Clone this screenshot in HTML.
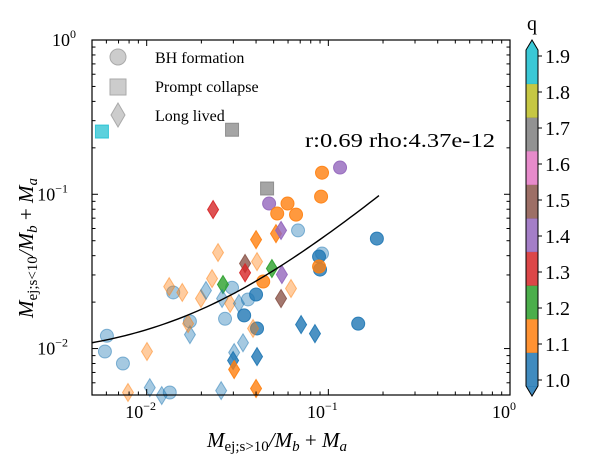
<!DOCTYPE html>
<html><head><meta charset="utf-8"><style>
html,body{margin:0;padding:0;background:#fff;}
svg{display:block;font-family:"Liberation Serif","DejaVu Serif",serif;}
</style></head><body>
<svg id="chart" width="591" height="470" viewBox="0 0 591 470">
  <g id="marks"></g>
  <g id="fitg"></g>
  <rect x="92" y="40" width="418" height="355" fill="none" stroke="#000" stroke-width="1.2"/>
  <g id="ticks"></g>
  <g>
    <circle cx="118" cy="57" r="8" fill="#bbb" fill-opacity="0.75" stroke="#aaa"/>
    <text x="155" y="63" font-size="16">BH formation</text>
    <rect x="110" y="79" width="16" height="16" fill="#bbb" fill-opacity="0.75" stroke="#aaa"/>
    <text x="155" y="92" font-size="16">Prompt collapse</text>
    <polygon points="118,103 125,115 118,127 111,115" fill="#bbb" fill-opacity="0.75" stroke="#aaa"/>
    <text x="155" y="121" font-size="16">Long lived</text>
  </g>
  <text x="305" y="147" font-size="20" textLength="190" lengthAdjust="spacingAndGlyphs">r:0.69 rho:4.37e-12</text>
  <text x="207" y="447" font-size="21" font-style="italic">M<tspan font-size="15" dy="4" font-style="normal">ej;s&gt;10</tspan><tspan dy="-4">/M</tspan><tspan font-size="15" dy="4">b</tspan><tspan dy="-4" font-style="normal"> + </tspan>M<tspan font-size="15" dy="4">a</tspan></text>
  <text transform="translate(33,318) rotate(-90)" font-size="21" font-style="italic">M<tspan font-size="15" dy="4" font-style="normal">ej;s&lt;10</tspan><tspan dy="-4">/M</tspan><tspan font-size="15" dy="4">b</tspan><tspan dy="-4" font-style="normal"> + </tspan>M<tspan font-size="15" dy="4">a</tspan></text>
  <g id="cbar"></g>
  <text x="532" y="30" font-size="20" text-anchor="middle">q</text>
</svg>
<script>
const xs = [0.00567,0.0295,0.0460,
0.0472,0.0596,0.0523,0.0664,0.0923,0.0912,0.116,0.0681,0.185,0.0889,0.0923,0.0900,0.0889,0.0438,0.0400,0.0295,0.0361,0.0344,0.0270,0.0405,0.0173,0.0140,0.00604,0.00589,0.00740,0.0134,0.146,
0.0232,0.0247,0.0400,0.0515,0.0549,0.0405,0.0348,0.0348,0.0489,0.0555,0.0549,0.0623,0.0229,0.0263,0.0133,0.0157,0.0199,0.0212,0.0260,0.0288,0.0322,0.0385,0.0173,0.0169,0.0339,0.0303,0.0299,0.0303,0.0405,0.01004,0.00789,0.0104,0.0121,0.0257,0.0400,0.0708,0.0844];
const ys = [0.255,0.262,0.109,
0.0871,0.0871,0.0750,0.0738,0.138,0.0966,0.149,0.0583,0.0516,0.0395,0.0413,0.0325,0.0340,0.0272,0.0224,0.0248,0.0208,0.0164,0.0156,0.0135,0.0150,0.0231,0.0121,0.00957,0.00800,0.00519,0.0145,
0.0796,0.0419,0.0508,0.0556,0.0583,0.0366,0.0356,0.0310,0.0330,0.0302,0.0211,0.0245,0.0284,0.0260,0.0252,0.0231,0.0211,0.0238,0.0211,0.0196,0.0196,0.0135,0.0123,0.0145,0.0109,0.00942,0.00836,0.00731,0.00887,0.00957,0.00519,0.00558,0.00496,0.00534,0.00551,0.0143,0.0125];
const shapes = ["s","s","s",
"c","c","c","c","c","c","c","c","c","c","c","c","c","c","c","c","c","c","c","c","c","c","c","c","c","c","c",
"d","d","d","d","d","d","d","d","d","d","d","d","d","d","d","d","d","d","d","d","d","d","d","d","d","d","d","d","d","d","d","d","d","d","d","d","d"];
const qs = [1.95,1.75,1.75,
1.45,1.15,1.15,1.15,1.15,1.15,1.45,1.05,1.05,1.05,1.05,1.05,1.15,1.15,1.05,1.05,1.05,1.05,1.05,1.05,1.05,1.05,1.05,1.05,1.05,1.05,1.05,
1.35,1.15,1.15,1.15,1.45,1.15,1.55,1.35,1.25,1.45,1.55,1.15,1.15,1.25,1.15,1.15,1.15,1.05,1.05,1.15,1.05,1.15,1.05,1.15,1.05,1.05,1.05,1.15,1.05,1.15,1.15,1.05,1.05,1.05,1.15,1.05,1.05];
const alphas = [0.7,0.7,0.7,
0.8,0.8,0.8,0.8,0.8,0.8,0.8,0.4,0.8,0.8,0.4,0.8,0.8,0.8,0.8,0.4,0.4,0.8,0.4,0.8,0.4,0.4,0.4,0.4,0.4,0.4,0.8,
0.8,0.4,0.8,0.8,0.8,0.4,0.8,0.8,0.8,0.8,0.8,0.4,0.4,0.8,0.4,0.4,0.4,0.4,0.4,0.4,0.4,0.4,0.4,0.4,0.4,0.4,0.8,0.8,0.8,0.4,0.4,0.4,0.4,0.4,0.8,0.8,0.8];
const fitIntercept = 0.00855;
const fitSlope = 0.471;
const fitRange = [0.005, 0.19];
const cbarTicks = ["1.0","1.1","1.2","1.3","1.4","1.5","1.6","1.7","1.8","1.9"];
const xTickLabels = ["-2","-1","0"];
const yTickLabels = ["-2","-1","0"];

const NS = "http://www.w3.org/2000/svg";
const X0=92,X1=510,Y0=40,Y1=395,LMIN=Math.log10(0.005),LMAX=0;
function sx(v){return X0+(Math.log10(v)-LMIN)/(LMAX-LMIN)*(X1-X0);}
function sy(v){return Y1-(Math.log10(v)-LMIN)/(LMAX-LMIN)*(Y1-Y0);}
const cols=["#1f77b4","#ff7f0e","#2ca02c","#d62728","#9467bd","#8c564b","#e377c2","#7f7f7f","#bcbd22","#17becf"];
function qcol(q){let i=Math.floor((q-1)/0.1+1e-9);i=Math.max(0,Math.min(9,i));return cols[i];}
function mk(tag,a,parent){const e=document.createElementNS(NS,tag);for(const k in a)e.setAttribute(k,a[k]);parent.appendChild(e);return e;}

const marks=document.getElementById("marks");
for(let i=0;i<xs.length;i++){
  const cx=sx(xs[i]),cy=sy(ys[i]),c=qcol(qs[i]);
  let e;
  if(shapes[i]==="c") e=mk("circle",{cx:cx,cy:cy,r:6.5},marks);
  else if(shapes[i]==="s") e=mk("rect",{x:cx-6.5,y:cy-6.5,width:13,height:13},marks);
  else e=mk("polygon",{points:`${cx},${cy-9} ${cx+5.5},${cy} ${cx},${cy+9} ${cx-5.5},${cy}`},marks);
  e.setAttribute("fill",c);e.setAttribute("fill-opacity",alphas[i]);
  e.setAttribute("stroke",c);e.setAttribute("stroke-opacity",Math.min(1,alphas[i]+0.1));e.setAttribute("stroke-width","1");
  
  
}
const fg=document.getElementById("fitg");
let d="";
for(let k=0;k<=60;k++){
  const lx=Math.log10(fitRange[0])+(Math.log10(fitRange[1])-Math.log10(fitRange[0]))*k/60;
  const x=Math.pow(10,lx),y=fitIntercept+fitSlope*x;
  d+=(k?"L":"M")+sx(x).toFixed(2)+","+sy(y).toFixed(2);
}
const fl=mk("path",{d:d,fill:"none",stroke:"#000","stroke-width":1.4},fg);



const tg=document.getElementById("ticks");
for(let dec=-3;dec<=0;dec++){
  for(let m=1;m<10;m++){
    const v=m*Math.pow(10,dec);
    if(v<0.005-1e-9||v>1+1e-9)continue;
    const L=m===1?6:3.5;
    const px=sx(v),py=sy(v);
    mk("line",{x1:px,y1:Y1,x2:px,y2:Y1-L,stroke:"#000","stroke-width":1},tg);
    mk("line",{x1:px,y1:Y0,x2:px,y2:Y0+L,stroke:"#000","stroke-width":1},tg);
    mk("line",{x1:X0,y1:py,x2:X0+L,y2:py,stroke:"#000","stroke-width":1},tg);
    mk("line",{x1:X1,y1:py,x2:X1-L,y2:py,stroke:"#000","stroke-width":1},tg);
  }
}
xTickLabels.forEach((t,i)=>{
  const v=Math.pow(10,Number(t));
  const tx=mk("text",{x:sx(v)-6,y:418,"font-size":18,"text-anchor":"middle"},tg);
  tx.innerHTML=`10<tspan font-size="12" dy="-8">${t.replace("-","−")}</tspan>`;
  
  
});
yTickLabels.forEach((t,i)=>{
  const v=Math.pow(10,Number(t));
  const tx=mk("text",{x:t==="0"?76:68,y:sy(v)+6,"font-size":18,"text-anchor":"end"},tg);
  tx.innerHTML=`10<tspan font-size="12" dy="-8">${t.replace("-","−")}</tspan>`;
  
  
});

const cb=document.getElementById("cbar");
const CX=526,CW=12,CT=50,CB=386,seg=(CB-CT)/10;
for(let i=0;i<10;i++){
  const r=mk("rect",{x:CX,y:CB-(i+1)*seg,width:CW,height:seg+0.5,fill:cols[i],"fill-opacity":0.85},cb);
  
  
}
mk("polygon",{points:`${CX},${CT} ${CX+CW/2},${CT-10} ${CX+CW},${CT}`,fill:cols[9],"fill-opacity":0.85},cb);
mk("polygon",{points:`${CX},${CB} ${CX+CW/2},${CB+10} ${CX+CW},${CB}`,fill:cols[0],"fill-opacity":0.85},cb);
mk("polygon",{points:`${CX},${CT} ${CX+CW/2},${CT-10} ${CX+CW},${CT} ${CX+CW},${CB} ${CX+CW/2},${CB+10} ${CX},${CB}`,fill:"none",stroke:"#000","stroke-width":1},cb);
cbarTicks.forEach((t,i)=>{
  const y=380-i*36;
  mk("line",{x1:CX+CW,y1:y,x2:CX+CW+4,y2:y,stroke:"#000","stroke-width":1},cb);
  const tx=mk("text",{x:545,y:y+7,"font-size":20},cb);
  tx.textContent=t;
  
  
});
</script>
</body></html>
